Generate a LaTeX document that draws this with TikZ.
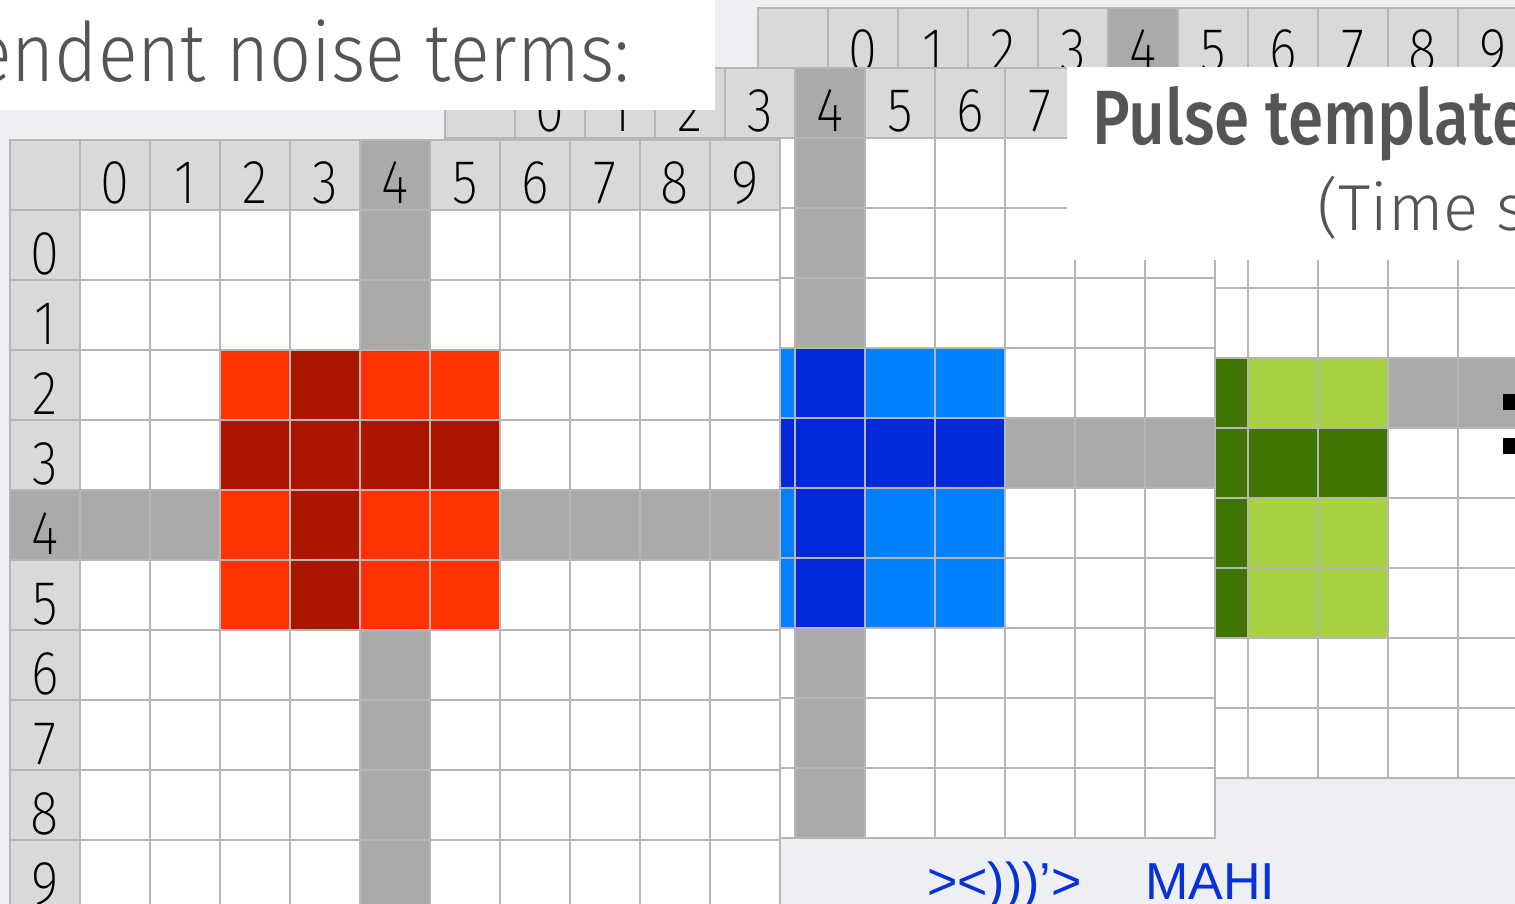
\documentclass[tikz,border=0pt]{standalone}
\usepackage{fontspec}
\setmainfont{Fira Sans Light}
\newfontfamily\digitfont{Fira Sans ExtraLight}[FakeStretch=0.85]
\newfontfamily\lightfont{Fira Sans Light}
\newfontfamily\headfont{Fira Sans Medium}
\newfontfamily\arialfont{Liberation Sans}

\definecolor{bgcol}{HTML}{EDEFF2}
\definecolor{linecol}{HTML}{B6B6B6}
\definecolor{headcol}{HTML}{D9D9D9}
\definecolor{hicol}{HTML}{AAAAAA}
\definecolor{redlt}{HTML}{FF3300}
\definecolor{reddk}{HTML}{AA1600}
\definecolor{bluelt}{HTML}{0080FF}
\definecolor{bluedk}{HTML}{0328D8}
\definecolor{grnlt}{HTML}{A8D244}
\definecolor{grndk}{HTML}{407400}
\definecolor{titlecol}{HTML}{555555}
\definecolor{fishblue}{HTML}{0630D8}

\tikzset{
  gridline/.style={draw=linecol, line width=2.6pt},
  digit/.style={anchor=base, inner sep=0pt,
    font=\digitfont\fontsize{62}{62}\selectfont, text=black},
  titlebox/.style={fill=white},
}

% 10x10 table with header row/column, highlighted column 4 and row 4,
% and a 4x4 template block whose column #6 and row #7 are dark.
% #1 name, #2 #3 top-left corner, #4 #5 first block column/row,
% #6 #7 dark column/row, #8 light colour, #9 dark colour
\newcommand\slidegrid[9]{%
  \begin{scope}[shift={(#2,#3)}]
    \fill[white] (0,0) rectangle (770,770);
    \fill[headcol] (0,0) rectangle (770,70);
    \fill[headcol] (0,0) rectangle (70,770);
    \fill[hicol] (350,0) rectangle (420,770);
    \fill[hicol] (0,350) rectangle (770,420);
    \foreach \c in {0,...,3}{
      \foreach \r in {0,...,3}{
        \pgfmathtruncatemacro\cc{#4+\c}
        \pgfmathtruncatemacro\rr{#5+\r}
        \pgfmathtruncatemacro\isdark{or(\cc==#6,\rr==#7)}
        \ifnum\isdark=1 \def\cellcol{#9}\else\def\cellcol{#8}\fi
        \fill[\cellcol] ({70*(\cc+1)},{70*(\rr+1)}) rectangle ++(70,70);
      }
    }
    \foreach \i in {1,...,10}{
      \draw[gridline] ({70*\i},0) -- ({70*\i},770);
      \draw[gridline] (0,{70*\i}) -- (770,{70*\i});
    }
    \draw[gridline] (0,0) rectangle (770,770);
    \foreach \k in {0,...,9}{
      \node[digit] (#1-c\k) at ({70*(\k+1)+35},64) {\k};
      \node[digit] (#1-r\k) at (35,{70*(\k+1)+64}) {\k};
    }
  \end{scope}
}

\begin{document}
\begin{tikzpicture}[x=1pt,y=-1pt]
  \useasboundingbox (0,0) rectangle (1515,904);
  \fill[bgcol] (0,0) rectangle (1515,904);

  % shifted copies of the template, back to front
  \slidegrid{C}{758}{8}{4}{4}{5}{5}{grnlt}{grndk}
  \slidegrid{B}{445}{68}{3}{3}{4}{4}{bluelt}{bluedk}

  % title panels
  \fill[titlebox] (1067,67) rectangle (1520,260);
  \node[anchor=base west, inner sep=0pt,
    font=\headfont\fontsize{77}{77}\selectfont, text=titlecol]
    (pulse) at (1092,145) {\scalebox{0.83}[1]{Pulse template}};
  \node[anchor=base west, inner sep=0pt,
    font=\lightfont\fontsize{65}{65}\selectfont, text=titlecol]
    (timeshift) at (1317,230) {(Time s};

  \fill[titlebox] (-5,-5) rectangle (715,110);
  \node[anchor=base east, inner sep=0pt,
    font=\lightfont\fontsize{82}{82}\selectfont, text=titlecol]
    (noise) at (630,82) {\scalebox{0.9}[1]{endent noise terms:}};

  \slidegrid{A}{10}{140}{2}{2}{3}{3}{redlt}{reddk}

  % list bullets at the right margin
  \fill[black] (1503,394) rectangle (1520,410);
  \fill[black] (1503,438) rectangle (1520,454);

  % footer
  \node[anchor=base west, inner sep=0pt,
    font=\arialfont\fontsize{52}{52}\selectfont, text=fishblue]
    (fish) at (927,899) {><)))’>};
  \node[anchor=base west, inner sep=0pt,
    font=\arialfont\fontsize{52}{52}\selectfont, text=fishblue]
    (mahi) at (1145,899) {MAHI};
\end{tikzpicture}
\end{document}
